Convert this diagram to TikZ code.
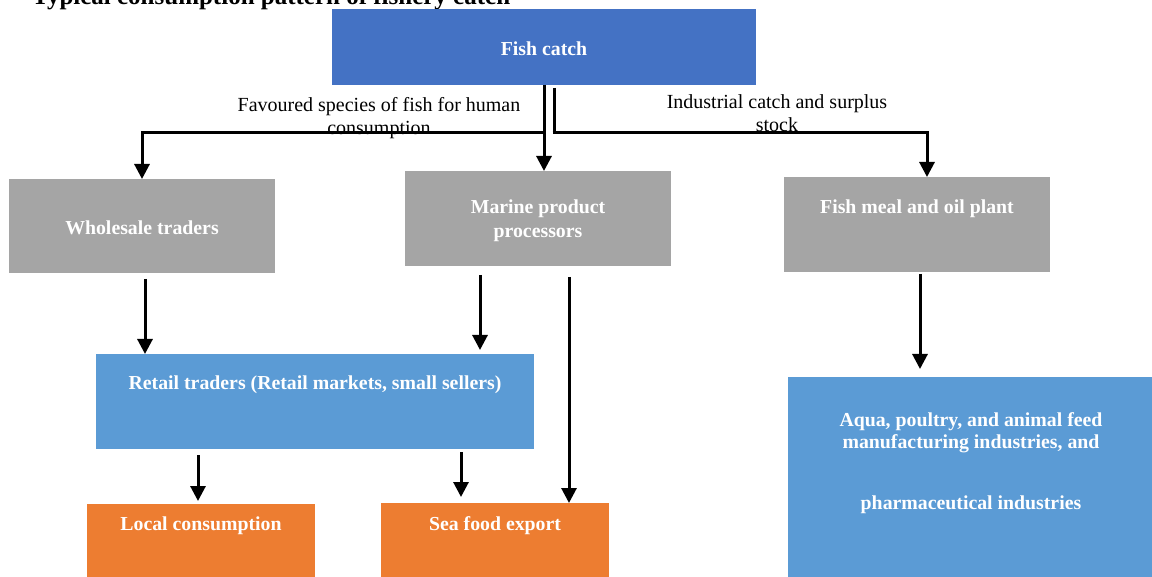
\documentclass[tikz,border=0pt]{standalone}
\usepackage{fontspec}
\setmainfont{Liberation Serif}
\usetikzlibrary{arrows.meta}
\definecolor{cblue}{HTML}{4472C4}
\definecolor{lblue}{HTML}{5B9BD5}
\definecolor{cgray}{HTML}{A5A5A5}
\definecolor{corange}{HTML}{ED7D31}
\begin{document}
\begin{tikzpicture}[x=1pt,y=-1pt,
  box/.style={draw=none, inner sep=0pt, outer sep=0pt, anchor=north west},
  boxtext/.style={inner sep=0pt, text=white, font=\bfseries\fontsize{19.8}{24}\selectfont, align=center},
  lbl/.style={inner sep=0pt, font=\fontsize{20}{23}\selectfont, align=center},
  conn/.style={line width=3pt, -{Triangle[width=15pt,length=15pt]}},
  plain/.style={line width=3pt}
]
\useasboundingbox (0,0) rectangle (1152,577);
\fill[white] (0,0) rectangle (1152,577);

% title (cut off at top)
\node[anchor=base west, inner sep=0pt, font=\bfseries\fontsize{25}{30}\selectfont] (title) at (32,5) {Typical consumption pattern of fishery catch};

% boxes
\node[box, fill=cblue, minimum width=424pt, minimum height=76pt] (fc) at (332,9) {};
\node[boxtext] (fct) at (544,49) {Fish catch};
\node[box, fill=cgray, minimum width=266pt, minimum height=94pt] (wt) at (9,179) {};
\node[boxtext] (wtt) at (142,228) {Wholesale traders};
\node[box, fill=cgray, minimum width=266pt, minimum height=95pt] (mp) at (405,171) {};
\node[boxtext] (mpt) at (538,221) {Marine product\\processors};
\node[box, fill=cgray, minimum width=266pt, minimum height=95pt] (fm) at (784,177) {};
\node[boxtext] (fmt) at (917,209) {Fish meal and oil plant};
\node[box, fill=lblue, minimum width=438pt, minimum height=95pt] (rt) at (96,354) {};
\node[boxtext] (rtt) at (315,385) {Retail traders (Retail markets, small sellers)};
\node[box, fill=corange, minimum width=228pt, minimum height=80pt] (lc) at (87,504) {};
\node[boxtext] (lct) at (201,526) {Local consumption};
\node[box, fill=corange, minimum width=228pt, minimum height=80pt] (se) at (381,503) {};
\node[boxtext] (set) at (495,526) {Sea food export};
\node[box, fill=lblue, minimum width=370pt, minimum height=210pt] (aq) at (788,377) {};
\node[boxtext, font=\bfseries\fontsize{19.8}{22}\selectfont] (aqt1) at (971,433) {Aqua, poultry, and animal feed\\manufacturing industries, and};
\node[boxtext] (aqt2) at (971,505) {pharmaceutical industries};

% labels
\node[lbl] (l1) at (379,118) {Favoured species of fish for human\\consumption};
\node[lbl] (l2) at (777,113) {Industrial catch and surplus\\stock};

% helper coordinates
\coordinate (x544) at (544,0);
\coordinate (x554) at (554,0);
\coordinate (x927) at (927,0);
\coordinate (x145) at (145,0);
\coordinate (x480) at (480,0);
\coordinate (x569) at (569,0);
\coordinate (x198) at (198,0);
\coordinate (x461) at (461,0);
\coordinate (x920) at (920,0);
\coordinate (j1) at (544,133);
\coordinate (j2) at (554,133);

% connectors
\draw[conn] (fc.south -| x544) -- (mp.north -| x544);
\draw[conn] (j1) -| (wt.north);
\draw[plain] (fc.south -| x554) ++(0,3) -- (j2);
\draw[conn] ([xshift=-1.5pt]j2) -| (fm.north -| x927);
\draw[conn] ([yshift=-6pt]wt.south -| x145) -- (rt.north -| x145);
\draw[conn] ([yshift=-9pt]mp.south -| x480) -- ([yshift=4pt]rt.north -| x480);
\draw[conn] ([yshift=-11pt]mp.south -| x569) -- (se.north -| x569);
\draw[conn] ([yshift=-6pt]rt.south -| x198) -- ([yshift=3pt]lc.north -| x198);
\draw[conn] ([yshift=-3pt]rt.south -| x461) -- ([yshift=6pt]se.north -| x461);
\draw[conn] ([yshift=-2pt]fm.south -| x920) -- ([yshift=8pt]aq.north -| x920);
\end{tikzpicture}
\end{document}
